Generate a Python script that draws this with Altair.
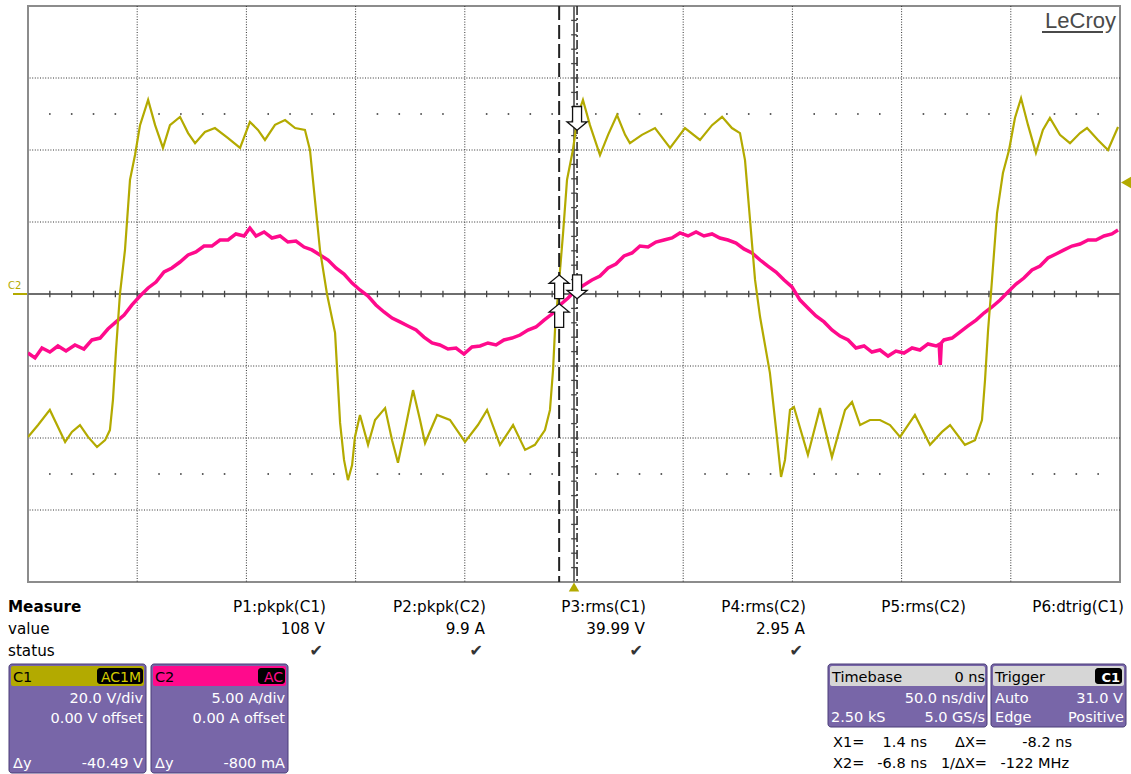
import altair as alt
import pandas as pd

# C1 : voltage trace (V) vs time (ns), 20 V/div
c1_t = [-250, -245.4, -240, -236.7, -233, -229.9, -226.2, -222.5, -218.4, -214.7,
        -212.5, -211.1, -209.7, -207.9, -205.6, -203.3, -201, -198.7, -195, -191.8,
        -188.2, -185, -180.4, -176.7, -173.5, -169, -164.4, -158.4, -152.9, -148.4,
        -144.7, -141.5, -136.9, -132.3, -127.7, -123.2, -120.9, -118.6, -116.3, -113.1,
        -109.4, -107.1, -105.3, -103.5, -101.6, -100.3, -98, -94.3, -91.1, -86.5,
        -83.3, -80.6, -77.4, -73.7, -70.5, -68.2, -62.7, -56.8, -49.9, -44,
        -39.8, -33.9, -27.9, -22.4, -17.9, -13.3, -11, -9.6, -8.7, -7.3,
        -5, -3.2, -0.5, 1.8, 4.1, 7.3, 11.9, 15.6, 19.7, 23.4,
        25.6, 31.1, 37.1, 44, 50.8, 57.7, 63.2, 67.8, 72.3, 76,
        78.3, 80.6, 82.9, 85.2, 89.7, 92.9, 94.8, 96.6, 98.9, 100.7,
        107.1, 112.6, 118.1, 124.1, 127.3, 131, 135.5, 140.1, 144.7, 149.3,
        156.1, 163, 168.5, 172.2, 179, 183.6, 186.8, 188.2, 189.6, 190.9,
        193.7, 196.4, 199.2, 201.9, 204.7, 207.9, 211.5, 214.7, 217.9, 222.5,
        227.1, 231.7, 234.9, 239.9, 244.5, 249.1]
c1_v = [-39.7, -36.4, -32.2, -36.4, -41.1, -38.3, -36.4, -39.7, -42.5, -40.6,
        -37.8, -29.4, -15.6, 0, 12.2, 31.7, 38.6, 46.9, 53.9, 46.9,
        40.6, 46.9, 49.2, 44.7, 41.9, 45, 46.1, 43.3, 40.6, 47.8,
        45.6, 42.8, 47, 48.3, 46.1, 45.6, 40, 26.1, 12.2, 0,
        -10.8, -35.8, -46.1, -51.7, -47.5, -39.7, -33.6, -41.9, -35, -31.7,
        -40.6, -46.9, -37.8, -26.7, -35, -41.4, -33.6, -35, -41.1, -36.4,
        -32.2, -41.9, -36.4, -43.3, -41.9, -37.8, -32.2, -21.1, -10, 0,
        16.9, 31.7, 40, 49.7, 53.9, 46.9, 38.6, 44.2, 49.7, 44.2,
        41.9, 44.2, 46.1, 40.6, 46.1, 42.8, 46.9, 49.2, 46.1, 44.7,
        37.2, 20.6, 3.9, -6.4, -21.9, -39.7, -50.8, -46.1, -32.2, -31.4,
        -44.7, -31.7, -45.3, -32.2, -30, -36.4, -35, -35, -36.4, -39.7,
        -33.6, -41.9, -38.3, -36.4, -41.9, -40.6, -35, -23.9, -10, 0,
        22.5, 33.6, 40, 48.9, 54.4, 46.9, 39.2, 45.6, 48.9, 44.2,
        41.9, 44.7, 46.1, 42.8, 40, 46.4]

# C2 : current trace (A) vs time (ns), 5 A/div
c2_t = [-250, -246.8, -243.6, -240, -236.3, -232.6, -228.5, -224.4, -220.7, -217,
        -213.4, -209.7, -206, -202.4, -198.7, -195, -191.4, -187.7, -184.1, -180.4,
        -176.7, -173.1, -169.4, -165.8, -162.1, -158.4, -154.8, -151.1, -148.4, -145.6,
        -141.9, -138.3, -134.6, -131, -127.3, -123.6, -120, -116.3, -112.6, -109,
        -105.3, -101.6, -98, -94.3, -90.7, -87, -83.3, -79.7, -76, -72.3,
        -68.7, -65, -61.4, -57.7, -54, -50.4, -46.7, -43, -39.4, -35.7,
        -32.1, -28.4, -24.7, -21.1, -17.4, -13.7, -10.1, -6.4, -2.7, 0.9,
        4.6, 8.2, 11.9, 15.6, 19.2, 22.9, 26.6, 30.2, 33.9, 37.5,
        41.2, 44.9, 48.5, 52.2, 55.9, 59.5, 63.2, 66.8, 70.5, 74.2,
        77.8, 81.5, 85.2, 88.8, 92.5, 96.2, 99.8, 103.5, 107.1, 110.8,
        114.5, 118.1, 121.8, 125.5, 129.1, 132.8, 136.4, 140.1, 143.8, 147.4,
        151.1, 154.8, 158.4, 162.1, 165.8, 167.2, 167.7, 168.2, 169.4, 173.1,
        176.7, 180.4, 184.1, 187.7, 191.4, 195.1, 198.7, 202.4, 206, 209.7,
        213.4, 217, 220.7, 224.4, 228, 231.7, 235.4, 239, 242.7, 246.3,
        249.1]
c2_a = [-4.1, -4.44, -3.75, -4.03, -3.61, -3.96, -3.54, -3.82, -3.19, -3.06,
        -2.43, -1.94, -1.46, -0.76, -0.14, 0.42, 0.83, 1.53, 1.81, 2.22,
        2.71, 2.92, 3.33, 3.33, 3.75, 3.75, 4.17, 4.03, 4.58, 4.03,
        4.31, 3.89, 4.03, 3.61, 3.68, 3.26, 3.06, 2.71, 2.36, 1.81,
        1.39, 0.76, 0.28, -0.14, -0.76, -1.25, -1.67, -1.94, -2.22, -2.5,
        -2.99, -3.4, -3.54, -3.82, -3.75, -4.17, -3.68, -3.61, -3.4, -3.54,
        -3.19, -3.06, -2.85, -2.5, -2.29, -1.81, -1.39, -0.76, -0.28, 0.28,
        0.63, 0.97, 1.25, 1.81, 2.08, 2.64, 2.85, 3.33, 3.26, 3.61,
        3.75, 3.89, 4.24, 4.03, 4.31, 4.03, 4.17, 3.89, 3.75, 3.54,
        3.13, 2.85, 2.36, 1.94, 1.53, 0.97, 0.49, -0.42, -0.97, -1.53,
        -1.94, -2.5, -2.92, -3.19, -3.75, -3.61, -4.03, -3.89, -4.31, -3.96,
        -4.1, -3.75, -3.89, -3.47, -3.61, -3.5, -4.93, -3.4, -3.19, -3.06,
        -2.64, -2.22, -1.81, -1.32, -0.9, -0.42, 0.14, 0.69, 1.11, 1.67,
        1.94, 2.5, 2.78, 3.06, 3.33, 3.47, 3.75, 3.75, 4.03, 4.17,
        4.44]

V_PER_DIV = 20.0
A_PER_DIV = 5.0
NS_PER_DIV = 50.0
X1_NS = 1.4
X2_NS = -6.8
TRIG_V = 31.0

# cursor arrows (time, divisions, direction)
arrow_t = [X1_NS, X1_NS, X2_NS, X2_NS]
arrow_d = [2.44, 0.10, 0.10, -0.30]
arrow_dir = ["down", "down", "up", "up"]

measure_names = ["P1:pkpk(C1)", "P2:pkpk(C2)", "P3:rms(C1)", "P4:rms(C2)", "P5:rms(C2)", "P6:dtrig(C1)"]
measure_values = ["108 V", "9.9 A", "39.99 V", "2.95 A", "", ""]
measure_ok = [True, True, True, True, False, False]

# ---------------- style ----------------
W, H = 1092, 576
OX, OY = 28, 6
YEL = "#B3AA00"
PINK = "#FF0A8C"
PURPLE = "#7866A8"
PURPLE_EDGE = "#4A3D78"
HDR_GRAY = "#D6D6D6"
GRID = "#333333"
FONT = "DejaVu Sans"

xs = alt.Scale(domain=[-5 * NS_PER_DIV, 5 * NS_PER_DIV], nice=False, zero=False)
ys = alt.Scale(domain=[-4, 4], nice=False, zero=False)


def X(f):
    return alt.X(f, type="quantitative", scale=xs, axis=None)


def Y(f):
    return alt.Y(f, type="quantitative", scale=ys, axis=None)


ONE = pd.DataFrame({"k": [0]})


def txt(s, x, y, size=15, color="#000000", align="left", weight="normal"):
    return alt.Chart(ONE).mark_text(
        text=s, align=align, baseline="alphabetic", fontSize=size,
        color=color, font=FONT, fontWeight=weight
    ).encode(x=alt.value(x - OX), y=alt.value(y - OY))


def box(x1, y1, x2, y2, fill, stroke=None, radius=0, sw=1):
    kw = dict(fill=fill, cornerRadius=radius)
    if stroke is not None:
        kw["stroke"] = stroke
        kw["strokeWidth"] = sw
    return alt.Chart(ONE).mark_rect(**kw).encode(
        x=alt.value(x1 - OX), x2=alt.value(x2 - OX),
        y=alt.value(y1 - OY), y2=alt.value(y2 - OY))


layers = []

# grid
vg = pd.DataFrame({"t": [k * NS_PER_DIV for k in (-4, -3, -2, -1, 1, 2, 3, 4)]})
hg = pd.DataFrame({"d": [-3, -2, -1, 1, 2, 3]})
layers.append(alt.Chart(vg).mark_rule(color=GRID, strokeDash=[1, 1.6], strokeWidth=1).encode(x=X("t")))
layers.append(alt.Chart(hg).mark_rule(color=GRID, strokeDash=[1, 1.6], strokeWidth=1).encode(y=Y("d")))

# dotted rows at +/-2.5 div
dot_t = [t for t in range(-240, 250, 10) if t % 50 != 0]
dots = pd.DataFrame({"t": dot_t * 2, "d": [2.5] * len(dot_t) + [-2.5] * len(dot_t)})
layers.append(alt.Chart(dots).mark_square(size=2.5, color="#333333", opacity=1).encode(x=X("t"), y=Y("d")))

# centre axes
layers.append(alt.Chart(pd.DataFrame({"t": [0]})).mark_rule(color="#6E6E6E", strokeWidth=2).encode(x=X("t")))
layers.append(alt.Chart(pd.DataFrame({"d": [0]})).mark_rule(color="#6E6E6E", strokeWidth=2).encode(y=Y("d")))

# minor ticks on centre axes
ht = pd.DataFrame({"t": [t for t in range(-240, 250, 10) if t != 0]})
ht["y0"] = -0.045
ht["y1"] = 0.045
layers.append(alt.Chart(ht).mark_rule(color="#444444", strokeWidth=1.3).encode(x=X("t"), y=Y("y0"), y2="y1"))
vt = pd.DataFrame({"d": [k / 5 for k in range(-19, 20) if k != 0]})
vt["x0"] = -1.3
vt["x1"] = 1.3
layers.append(alt.Chart(vt).mark_rule(color="#444444", strokeWidth=1.3).encode(y=Y("d"), x=X("x0"), x2="x1"))

# traces
c2 = pd.DataFrame({"t": c2_t, "a": c2_a})
c1 = pd.DataFrame({"t": c1_t, "v": c1_v})
layers.append(
    alt.Chart(c2).transform_calculate(d=f"datum.a / {A_PER_DIV}")
    .mark_line(color=PINK, strokeWidth=3.5, clip=True)
    .encode(x=X("t"), y=Y("d"))
)
layers.append(
    alt.Chart(c1).transform_calculate(d=f"datum.v / {V_PER_DIV}")
    .mark_line(color=YEL, strokeWidth=2.2, clip=True)
    .encode(x=X("t"), y=Y("d"))
)

# cursors
layers.append(alt.Chart(pd.DataFrame({"t": [X2_NS]})).mark_rule(
    color="#222222", strokeWidth=2, strokeDash=[14, 5]).encode(x=X("t")))
layers.append(alt.Chart(pd.DataFrame({"t": [X1_NS]})).mark_rule(
    color="#222222", strokeWidth=1.5, strokeDash=[9, 3, 2, 3]).encode(x=X("t")))

UP = "M0,-1L0.85,-0.3L0.38,-0.3L0.38,1L-0.38,1L-0.38,-0.3L-0.85,-0.3Z"
DOWN = "M0,1L0.85,0.3L0.38,0.3L0.38,-1L-0.38,-1L-0.38,0.3L-0.85,0.3Z"
arrows = pd.DataFrame({"t": arrow_t, "d": arrow_d, "dir": arrow_dir})
layers.append(
    alt.Chart(arrows).mark_point(filled=True, fill="white", stroke="#111111",
                                 strokeWidth=1.3, opacity=1, size=560)
    .encode(x=X("t"), y=Y("d"),
            shape=alt.Shape("dir:N", scale=alt.Scale(domain=["up", "down"], range=[UP, DOWN]), legend=None))
)

# trigger markers
layers.append(
    alt.Chart(pd.DataFrame({"v": [TRIG_V]})).transform_calculate(d=f"datum.v / {V_PER_DIV}")
    .mark_point(shape="triangle-left", filled=True, color=YEL, opacity=1, size=190)
    .encode(x=alt.value(1127 - OX), y=Y("d"))
)
layers.append(
    alt.Chart(pd.DataFrame({"t": [0]}))
    .mark_point(shape="triangle-up", filled=True, color=YEL, opacity=1, size=110)
    .encode(x=X("t"), y=alt.value(587 - OY))
)

# C2 offset label on the left
layers.append(txt("C2", 8, 289, size=10, color=YEL))
layers.append(alt.Chart(ONE).mark_rule(color=YEL, strokeWidth=2).encode(
    x=alt.value(13 - OX), x2=alt.value(27 - OX), y=alt.value(294 - OY)))

# LeCroy logo
layers.append(alt.Chart(ONE).mark_text(
    text="LeCroy", align="right", baseline="alphabetic", fontSize=22,
    color="#4A4A4A", font="Liberation Sans").encode(x=alt.value(1116 - OX), y=alt.value(28 - OY)))
layers.append(alt.Chart(ONE).mark_rule(color="#4A4A4A", strokeWidth=2).encode(
    x=alt.value(1042 - OX), x2=alt.value(1103 - OX), y=alt.value(32 - OY)))

# ---------------- measurement panel ----------------
layers.append(txt("Measure", 8, 612, size=15.2, weight="bold"))
layers.append(txt("value", 8, 634, size=15.2))
layers.append(txt("status", 8, 656, size=15.2))
col_right = [326, 486, 646, 806, 966, 1124]
for name, val, ok, xr in zip(measure_names, measure_values, measure_ok, col_right):
    layers.append(txt(name, xr, 612, size=15.2, align="right"))
    if val:
        layers.append(txt(val, xr - 1, 634, size=15.2, align="right"))
    if ok:
        layers.append(txt("\u2714", xr - 3, 656, size=16, color="#333333", align="right"))

# C1 box
layers.append(box(9, 664, 146, 773, PURPLE, PURPLE_EDGE, 3))
layers.append(box(11, 666, 144, 686, YEL, None, 2))
layers.append(txt("C1", 13, 682, size=14.5))
layers.append(box(97, 668, 143, 684, "#000000", None, 3))
layers.append(txt("AC1M", 141, 682, size=14, color="#D4CC00", align="right"))
layers.append(txt("20.0 V/div", 143, 703, size=14.5, color="white", align="right"))
layers.append(txt("0.00 V offset", 143, 723, size=14.5, color="white", align="right"))
layers.append(txt("\u0394y", 13, 768, size=14.5, color="white"))
layers.append(txt("-40.49 V", 143, 768, size=14.5, color="white", align="right"))

# C2 box
layers.append(box(151, 664, 288, 773, PURPLE, PURPLE_EDGE, 3))
layers.append(box(153, 666, 286, 686, PINK, None, 2))
layers.append(txt("C2", 155, 682, size=14.5))
layers.append(box(258, 668, 285, 684, "#000000", None, 3))
layers.append(txt("AC", 283, 682, size=14, color=PINK, align="right"))
layers.append(txt("5.00 A/div", 285, 703, size=14.5, color="white", align="right"))
layers.append(txt("0.00 A offset", 285, 723, size=14.5, color="white", align="right"))
layers.append(txt("\u0394y", 155, 768, size=14.5, color="white"))
layers.append(txt("-800 mA", 285, 768, size=14.5, color="white", align="right"))

# Timebase box
layers.append(box(828, 664, 987, 727, PURPLE, PURPLE_EDGE, 3))
layers.append(box(830, 666, 985, 686, HDR_GRAY, None, 2))
layers.append(txt("Timebase", 832, 682, size=14.5))
layers.append(txt("0 ns", 985, 682, size=14.5, align="right"))
layers.append(txt("50.0 ns/div", 985, 703, size=14.5, color="white", align="right"))
layers.append(txt("2.50 kS", 831, 722, size=14.5, color="white"))
layers.append(txt("5.0 GS/s", 985, 722, size=14.5, color="white", align="right"))

# Trigger box
layers.append(box(991, 664, 1126, 727, PURPLE, PURPLE_EDGE, 3))
layers.append(box(993, 666, 1124, 686, HDR_GRAY, None, 2))
layers.append(txt("Trigger", 995, 682, size=14.5))
layers.append(box(1095, 668, 1122, 684, "#000000", None, 3))
layers.append(txt("C1", 1120, 682, size=13, color="white", align="right", weight="bold"))
layers.append(txt("Auto", 995, 703, size=14.5, color="white"))
layers.append(txt("31.0 V", 1123, 703, size=14.5, color="white", align="right"))
layers.append(txt("Edge", 995, 722, size=14.5, color="white"))
layers.append(txt("Positive", 1124, 722, size=14.5, color="white", align="right"))

# cursor readouts
layers.append(txt("X1=", 833, 747, size=14.5))
layers.append(txt("1.4 ns", 927, 747, size=14.5, align="right"))
layers.append(txt("\u0394X=", 987, 747, size=14.5, align="right"))
layers.append(txt("-8.2 ns", 1072, 747, size=14.5, align="right"))
layers.append(txt("X2=", 833, 768, size=14.5))
layers.append(txt("-6.8 ns", 927, 768, size=14.5, align="right"))
layers.append(txt("1/\u0394X=", 987, 768, size=14.5, align="right"))
layers.append(txt("-122 MHz", 1069, 768, size=14.5, align="right"))

chart = (
    alt.layer(*layers)
    .properties(
        width=W, height=H,
        padding={"left": OX, "top": OY, "right": 1131 - OX - W, "bottom": 774 - OY - H},
        autosize=alt.AutoSizeParams(type="none"),
        background="white",
    )
    .configure_view(stroke="#8C8C8C", strokeWidth=2)
)

chart.save("out.html", embed_options={"renderer": "svg", "actions": False})
